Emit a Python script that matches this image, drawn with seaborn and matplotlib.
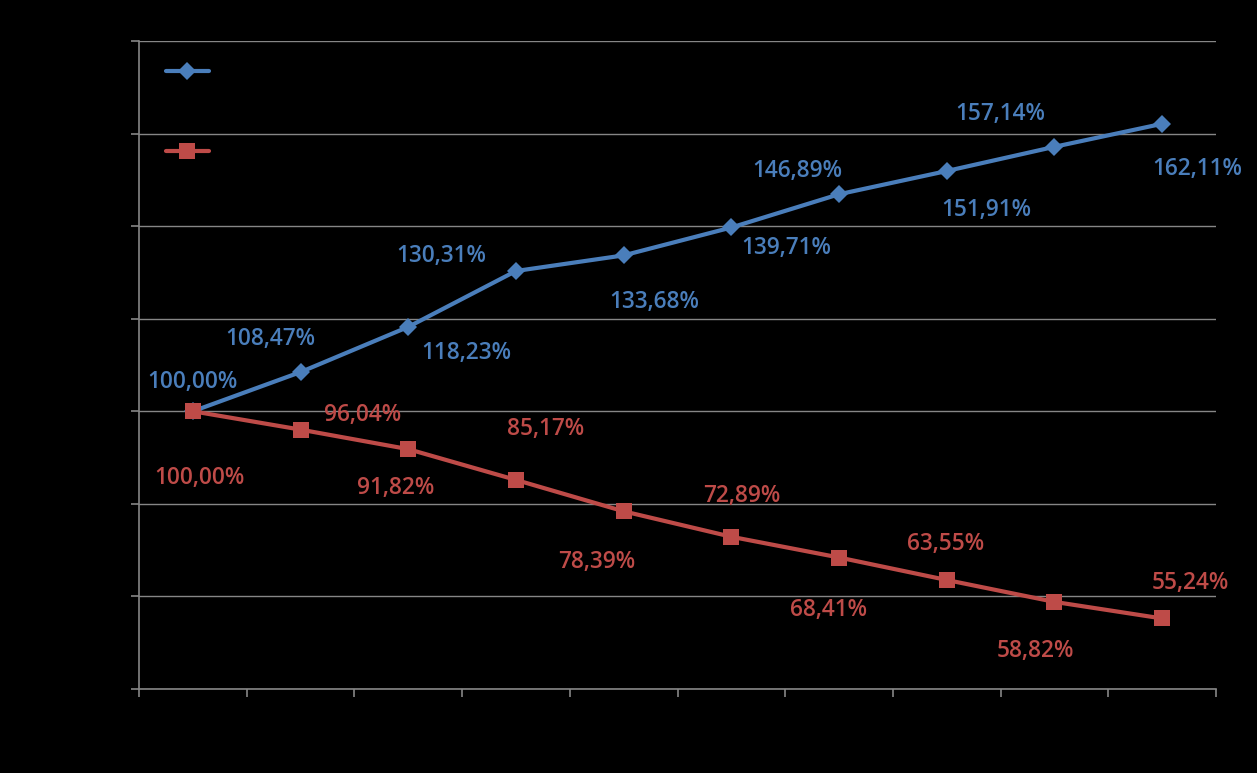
import numpy as np
import pandas as pd
import matplotlib
matplotlib.use("Agg")
import matplotlib.pyplot as plt
import seaborn as sns

sns.set_style("dark")
plt.rcParams['font.family'] = ['Open Sans', 'DejaVu Sans']

# 데이터
periods = list(range(1, 11))
blue_vals = [100.00, 108.47, 118.23, 130.31, 133.68, 139.71, 146.89, 151.91, 157.14, 162.11]
red_vals = [100.00, 96.04, 91.82, 85.17, 78.39, 72.89, 68.41, 63.55, 58.82, 55.24]
blue_labels = ["100,00%", "108,47%", "118,23%", "130,31%", "133,68%",
               "139,71%", "146,89%", "151,91%", "157,14%", "162,11%"]
red_labels = ["100,00%", "96,04%", "91,82%", "85,17%", "78,39%",
              "72,89%", "68,41%", "63,55%", "58,82%", "55,24%"]

# 라벨 위치 (픽셀 오프셋)
blue_off = [(0, 29), (-30, 33), (58, -26), (-75, 15), (31, -47),
            (55, -21), (-42, 23), (40, -39), (-54, 33), (35, -45)]
red_off = [(7, -67), (62, 15), (-13, -39), (30, 51), (-27, -51),
           (10, 41), (-11, -52), (-1, 36), (-19, -49), (28, 35)]

BLUE = '#4A7EBB'
RED = '#BE4B48'
GRID = '#868686'

df = pd.DataFrame({"period": periods * 2,
                   "value": blue_vals + red_vals,
                   "series": ["A"] * 10 + ["B"] * 10})

fig = plt.figure(figsize=(12.57, 7.73), dpi=100, facecolor='black')
ax = fig.add_axes([139 / 1257, 1 - 689 / 773, (1216 - 139) / 1257, (689 - 41) / 773])
ax.set_facecolor('black')

sns.lineplot(data=df, x="period", y="value", hue="series", style="series",
             palette={"A": BLUE, "B": RED}, markers={"A": "D", "B": "s"},
             dashes=False, linewidth=3, markersize=9, markeredgewidth=0,
             ax=ax, legend=False)
# 사각형 마커 크기 보정
ax.lines[1].set_markersize(12)

ax.set_xlim(0.5, 10.5)
ax.set_ylim(40, 180)
ax.set_yticks(np.arange(40, 181, 20))
ax.set_xticks(np.arange(0.5, 10.6, 1))
ax.set_xticklabels([])
ax.set_yticklabels([])
ax.set_xlabel("")
ax.set_ylabel("")
ax.grid(axis='y', color=GRID, linewidth=1)
ax.grid(axis='x', visible=False)
ax.tick_params(axis='both', colors=GRID, length=6, width=1.2, direction='out',
               left=True, bottom=True)
for side in ['top', 'right']:
    ax.spines[side].set_visible(False)
for side in ['left', 'bottom']:
    ax.spines[side].set_visible(True)
    ax.spines[side].set_color(GRID)
    ax.spines[side].set_linewidth(1.2)

for x, v, t, (dx, dy) in zip(periods, blue_vals, blue_labels, blue_off):
    ax.annotate(t, (x, v), xytext=(dx, dy), textcoords='offset pixels',
                ha='center', va='center', color=BLUE, fontsize=16.3, fontweight='semibold')
for x, v, t, (dx, dy) in zip(periods, red_vals, red_labels, red_off):
    ax.annotate(t, (x, v), xytext=(dx, dy), textcoords='offset pixels',
                ha='center', va='center', color=RED, fontsize=16.3, fontweight='semibold')

# 범례 (글자는 배경색)
h1 = plt.Line2D([], [], color=BLUE, lw=3, marker='D', markersize=9, markeredgewidth=0)
h2 = plt.Line2D([], [], color=RED, lw=3, marker='s', markersize=12, markeredgewidth=0)
leg = ax.legend([h1, h2], ["Série 1", "Série 2"], loc='upper left',
                bbox_to_anchor=(0.0097, 0.991), frameon=False, labelspacing=3.43,
                handlelength=2.4, labelcolor='black', fontsize=13)

fig.savefig("out.png", dpi=100, facecolor='black')
